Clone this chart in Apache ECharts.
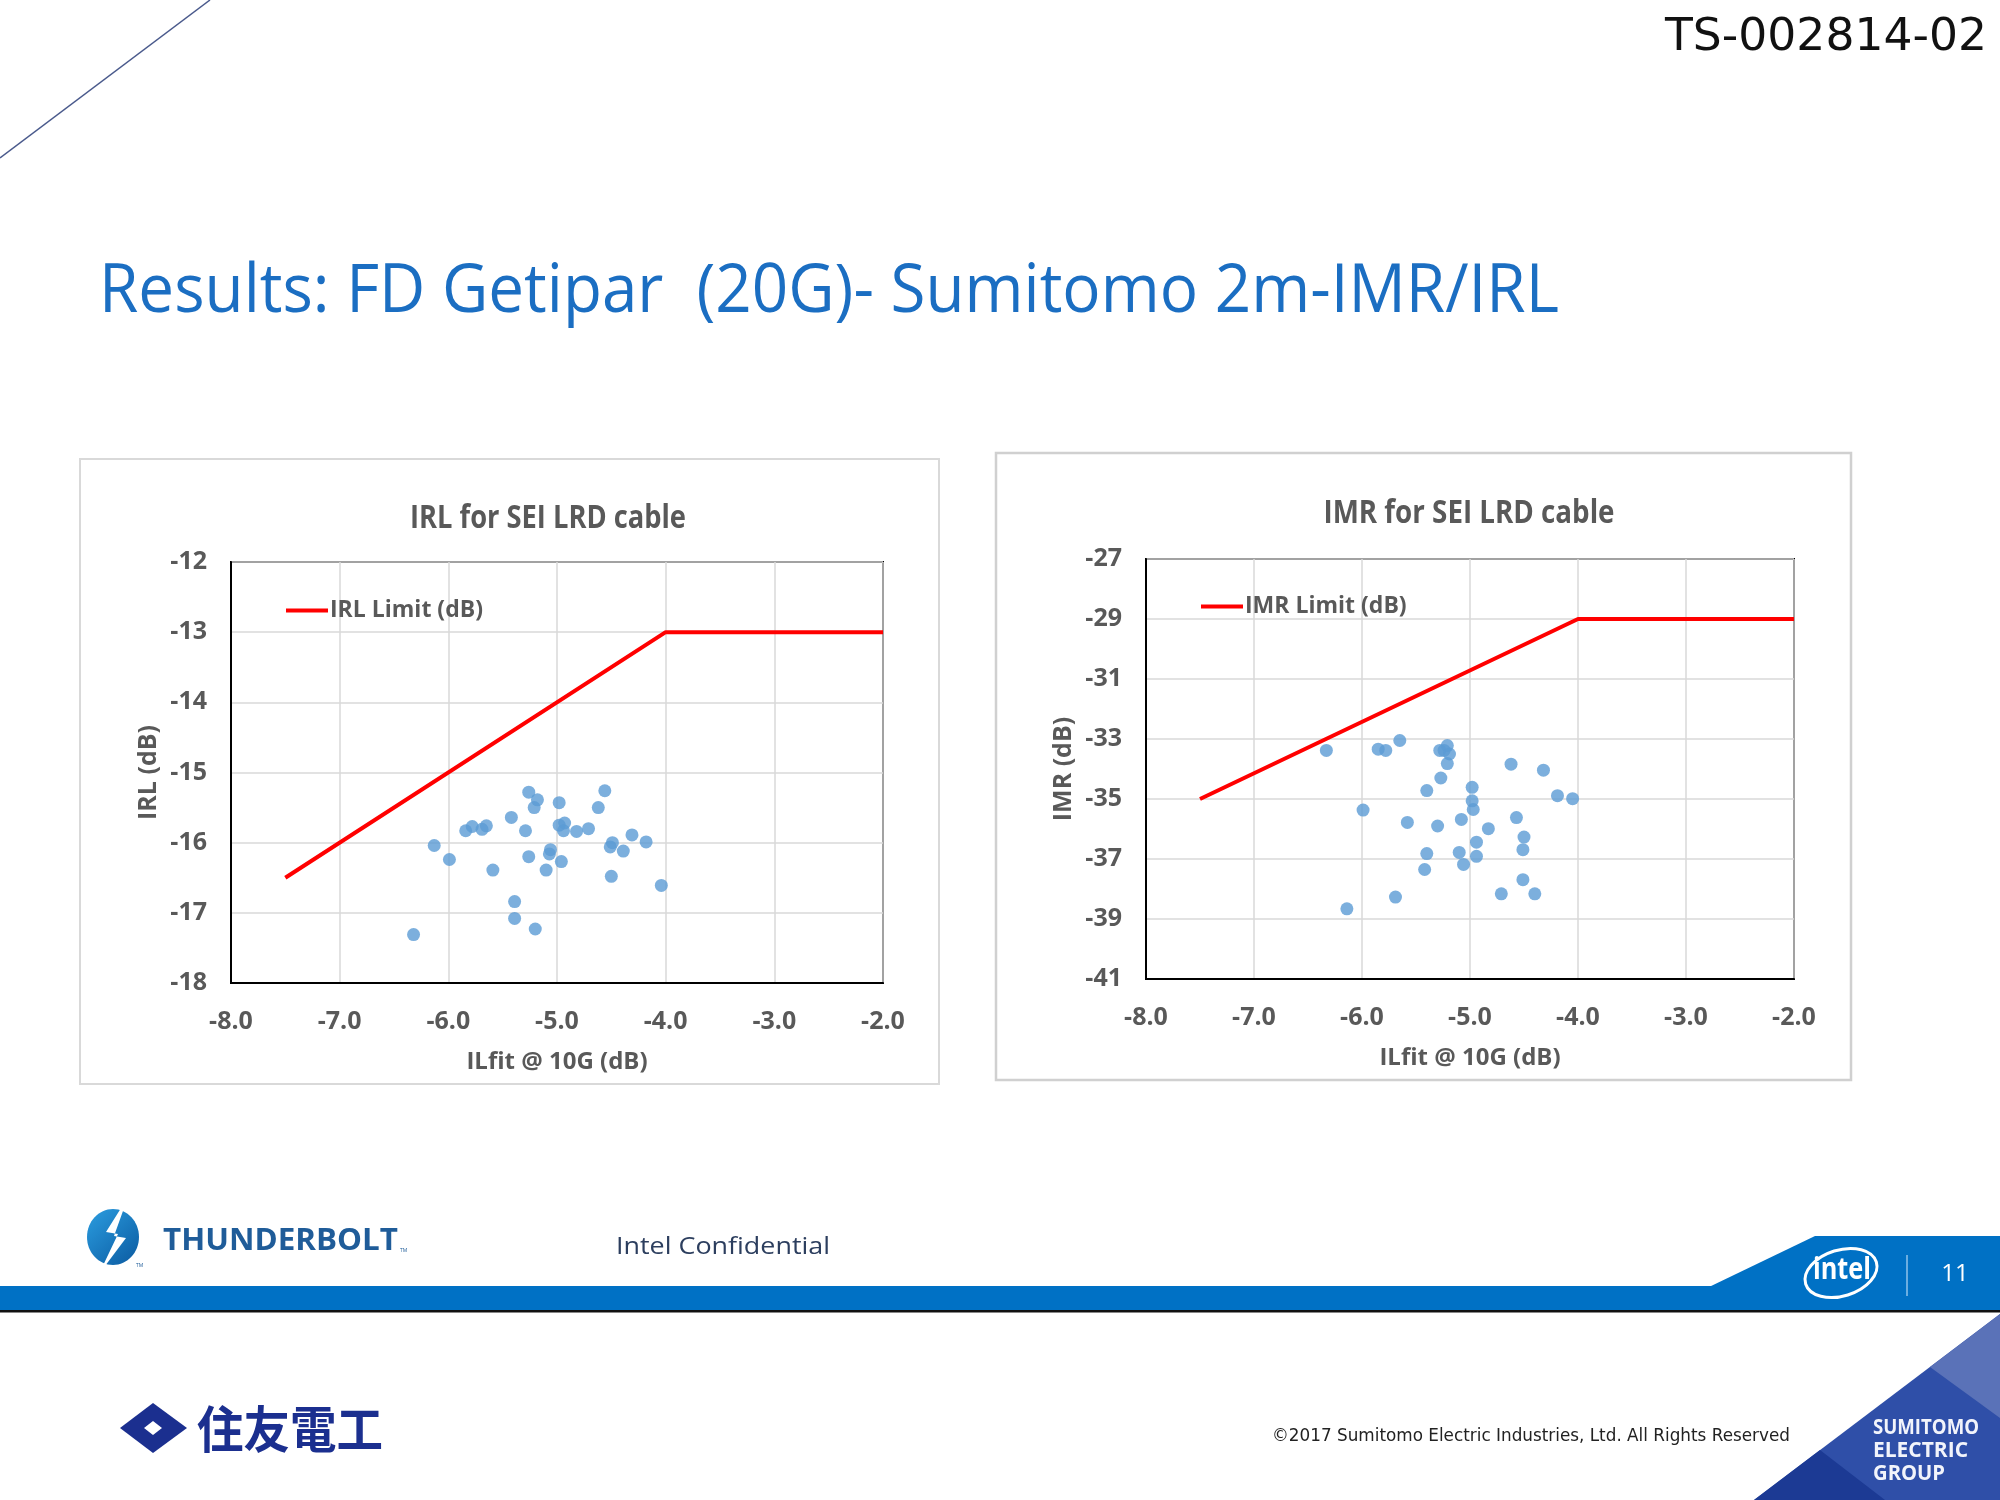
<!DOCTYPE html>
<html>
<head>
<meta charset="utf-8">
<script src="https://cdn.jsdelivr.net/npm/echarts@6/dist/echarts.min.js"></script>
<style>
html,body{margin:0;padding:0;background:#fff;}
#c{width:2000px;height:1500px;}
</style>
</head>
<body>
<div id="c"></div>
<script>
// ---- data ----
const irlX = [-5.26,-5.18,-5.21,-4.98,-4.56,-4.62,-5.42,-5.29,-4.98,-4.93,-4.94,-4.82,-4.71,-5.84,-5.78,-5.69,-5.65,-6.13,-5.99,-5.59,-5.26,-5.06,-5.07,-5.10,-4.96,-4.49,-4.51,-4.31,-4.18,-4.39,-4.50,-4.04,-5.39,-5.39,-5.20,-6.32];
const irlY = [-15.28,-15.39,-15.50,-15.43,-15.26,-15.50,-15.64,-15.83,-15.75,-15.72,-15.83,-15.84,-15.80,-15.83,-15.77,-15.81,-15.76,-16.04,-16.24,-16.39,-16.20,-16.10,-16.16,-16.39,-16.27,-16.00,-16.06,-15.89,-15.99,-16.12,-16.48,-16.61,-16.84,-17.08,-17.23,-17.31];
const imrX = [-6.33,-5.85,-5.78,-5.65,-5.28,-5.21,-5.24,-5.19,-5.21,-5.27,-5.40,-4.98,-4.98,-4.97,-4.62,-4.32,-4.19,-4.05,-5.99,-5.58,-5.30,-5.08,-4.83,-4.57,-4.50,-4.94,-4.51,-5.40,-5.10,-4.94,-5.42,-5.06,-4.51,-4.71,-4.40,-5.69,-6.14];
const imrY = [-33.38,-33.34,-33.38,-33.05,-33.38,-33.22,-33.38,-33.50,-33.82,-34.30,-34.72,-34.61,-35.06,-35.35,-33.84,-34.04,-34.89,-34.99,-35.37,-35.78,-35.90,-35.68,-35.99,-35.62,-36.27,-36.44,-36.69,-36.82,-36.78,-36.91,-37.35,-37.18,-37.69,-38.16,-38.16,-38.27,-38.66];
const irlLimitX = [-7.5,-4.0,-2.0];
const irlLimitY = [-16.5,-13,-13];
const imrLimitX = [-7.5,-4.0,-2.0];
const imrLimitY = [-35,-29,-29];
const xTickRange = [-8,-2];
const irlTickRange = [-18,-12];
const imrTickRange = [-41,-27];

const pageTitle = 'Results: FD Getipar  (20G)- Sumitomo 2m-IMR/IRL';
const irlTitle = 'IRL for SEI LRD cable';
const imrTitle = 'IMR for SEI LRD cable';
const xName = 'ILfit @ 10G (dB)';
const irlName = 'IRL (dB)';
const imrName = 'IMR (dB)';
const irlLegend = 'IRL Limit (dB)';
const imrLegend = 'IMR Limit (dB)';

// ---- font helpers ----
const mctx = document.createElement('canvas').getContext('2d');
function tw(font, text){ mctx.font = font; return mctx.measureText(text).width; }
const narrowOK = tw('bold 40px "Liberation Sans Narrow", monospace','abcdefgHIJ') !== tw('bold 40px monospace','abcdefgHIJ');
const CF = narrowOK ? '"Liberation Sans Narrow", "Open Sans", sans-serif' : '"Open Sans", sans-serif';
const fs = s => narrowOK ? s : Math.round(s*0.88);
function fitText(opts){
  const font = opts.font;
  const sx = opts.width ? opts.width / tw(font, opts.text) : 1;
  return {
    type:'text', x:opts.x, y:opts.y, scaleX:sx, z:opts.z||10,
    style:{text:opts.text, font:font, fill:opts.fill, align:opts.align||'left', verticalAlign:'middle'}
  };
}

const grey = '#595959';
const chart = echarts.init(document.getElementById('c'), null, {renderer:'canvas'});

function xAxisCfg(gi){
  return {
    gridIndex:gi, type:'value', min:xTickRange[0], max:xTickRange[1], interval:1,
    name:xName, nameLocation:'middle', nameGap:67,
    nameTextStyle:{color:grey, fontFamily:CF, fontWeight:'bold', fontSize:fs(27)},
    axisLine:{show:true, onZero:false, lineStyle:{color:'#000', width:2}},
    axisTick:{show:false},
    axisLabel:{color:grey, fontFamily:CF, fontWeight:'bold', fontSize:fs(28), margin:26,
      formatter:v=>v.toFixed(1)},
    splitLine:{show:true, lineStyle:{color:'#d9d9d9', width:1.5}}
  };
}
function yAxisCfg(gi, range, interval, name){
  return {
    gridIndex:gi, type:'value', min:range[0], max:range[1], interval:interval,
    name:name, nameLocation:'middle', nameGap:70, nameRotate:90,
    nameTextStyle:{color:grey, fontFamily:CF, fontWeight:'bold', fontSize:fs(28)},
    axisLine:{show:true, onZero:false, lineStyle:{color:'#000', width:2}},
    axisTick:{show:false},
    axisLabel:{color:grey, fontFamily:CF, fontWeight:'bold', fontSize:fs(28), margin:24},
    splitLine:{show:true, lineStyle:{color:'#d9d9d9', width:1.5}}
  };
}
function legendCfg(name, left, top){
  return {
    data:[name], left:left, top:top, padding:0, itemWidth:42, itemHeight:4, icon:'rect',
    itemGap:0, selectedMode:false,
    textStyle:{color:grey, fontFamily:CF, fontWeight:'bold', fontSize:fs(26), padding:[0,0,0,-3]}
  };
}
const pairs = (xs, ys) => xs.map((x,i)=>[x, ys[i]]);

const graphics = [
  // diagonal decoration
  {type:'line', shape:{x1:210,y1:0,x2:0,y2:158}, style:{stroke:'#4a5a8c', lineWidth:1.5}},
  fitText({text:'TS-002814-02', x:1987, y:38, font:'45px "DejaVu Sans"', width:322, fill:'#111', align:'right'}),
  fitText({text:pageTitle, x:99, y:293, font:'67px "Open Sans"', width:1460, fill:'#1b6ec2'}),
  // chart frames
  {type:'rect', shape:{x:80,y:459,width:859,height:625}, style:{fill:'#fff', stroke:'#d9d9d9', lineWidth:2}, z:-1},
  {type:'rect', shape:{x:996,y:453,width:855,height:627}, style:{fill:'#fff', stroke:'#d0d0d0', lineWidth:2.5}, z:-1},
  fitText({text:irlTitle, x:548, y:519, font:'bold 33px '+CF, width:276, fill:grey, align:'center'}),
  fitText({text:imrTitle, x:1469, y:514, font:'bold 33px '+CF, width:291, fill:grey, align:'center'}),
  // thunderbolt logo
  {type:'ellipse', shape:{cx:113,cy:1237,rx:26,ry:28},
   style:{fill:new echarts.graphic.LinearGradient(0,0,1,1,[{offset:0,color:'#2b9de0'},{offset:1,color:'#0b5aa0'}])}},
  {type:'polygon', shape:{points:[[128,1197],[106,1232],[118,1234],[99,1274],[126,1238],[114,1236],[128,1197]]},
   style:{fill:'#fff'}},
  fitText({text:'THUNDERBOLT', x:163, y:1241, font:'bold 31px "Open Sans"', width:235, fill:'#1f5c99'}),
  fitText({text:'TM', x:400, y:1251, font:'5px "Open Sans"', fill:'#1f5c99'}),
  fitText({text:'TM', x:136, y:1266, font:'5px "Open Sans"', fill:'#1f5c99'}),
  fitText({text:'Intel Confidential', x:616, y:1247, font:'24px "Open Sans"', width:214, fill:'#2c3e5e'}),
  // blue band
  {type:'rect', shape:{x:0,y:1286,width:2000,height:25}, style:{fill:'#0071c5'}},
  {type:'polygon', shape:{points:[[1709,1287],[1815,1236],[2000,1236],[2000,1287]]}, style:{fill:'#0071c5'}},
  {type:'rect', shape:{x:0,y:1310,width:2000,height:2.5}, style:{fill:'#111'}},
  // intel logo
  {type:'ellipse', x:1841, y:1273, rotation:0.3, shape:{cx:0,cy:0,rx:37,ry:23},
   style:{fill:null, stroke:'#fff', lineWidth:3}},
  fitText({text:'intel', x:1842, y:1270, font:'bold 30px "Open Sans"', width:58, fill:'#fff', align:'center'}),
  {type:'line', shape:{x1:1907,y1:1255,x2:1907,y2:1296}, style:{stroke:'#8fc3ea', lineWidth:1.5}},
  fitText({text:'11', x:1955, y:1274, font:'24px "Open Sans"', fill:'#fff', align:'center'}),
  // sumitomo mark
  {type:'polygon', shape:{points:[[153,1403],[187,1428],[153,1453],[120,1428]]}, style:{fill:'#1b2f8f'}},
  {type:'polygon', shape:{points:[[153,1421],[162,1428],[153,1435],[144,1428]]}, style:{fill:'#fff'}},
  fitText({text:'住友電工', x:197, y:1429, font:'bold 50px "Noto Sans CJK JP"', width:186, fill:'#1b2f8f'}),
  fitText({text:'©2017 Sumitomo Electric Industries, Ltd. All Rights Reserved', x:1272, y:1437, font:'17px "DejaVu Sans"', width:518, fill:'#222'}),
  // sumitomo triangle
  {type:'polygon', shape:{points:[[1754,1500],[2000,1314],[2000,1500]]}, style:{fill:'#2f4fa8'}},
  {type:'polygon', shape:{points:[[2000,1314],[1930,1367],[2000,1418]]}, style:{fill:'#5a72b8'}},
  {type:'polygon', shape:{points:[[1754,1500],[1820,1450],[1885,1500]]}, style:{fill:'#1c3a94'}},
  fitText({text:'SUMITOMO', x:1873, y:1428, font:'bold 21px "Open Sans"', width:106, fill:'#f2f4fb'}),
  fitText({text:'ELECTRIC', x:1873, y:1451, font:'bold 21px "Open Sans"', width:95, fill:'#f2f4fb'}),
  fitText({text:'GROUP', x:1873, y:1474, font:'bold 21px "Open Sans"', width:72, fill:'#f2f4fb'})
];

const option = {
  animation:false,
  backgroundColor:'#fff',
  grid:[
    {left:231, top:562, width:652, height:421, show:true, borderColor:'#000', borderWidth:2, backgroundColor:'transparent'},
    {left:1146, top:559, width:648, height:420, show:true, borderColor:'#000', borderWidth:2, backgroundColor:'transparent'}
  ],
  xAxis:[xAxisCfg(0), xAxisCfg(1)],
  yAxis:[yAxisCfg(0, irlTickRange, 1, irlName), yAxisCfg(1, imrTickRange, 2, imrName)],
  legend:[legendCfg(irlLegend, 286, 599), legendCfg(imrLegend, 1201, 595)],
  series:[
    {type:'scatter', name:'IRL', xAxisIndex:0, yAxisIndex:0, data:pairs(irlX, irlY), symbolSize:13,
     itemStyle:{color:'#5b9bd5'}, z:3},
    {type:'line', name:irlLegend, xAxisIndex:0, yAxisIndex:0, data:pairs(irlLimitX, irlLimitY),
     symbol:'none', lineStyle:{color:'#ff0000', width:4}, itemStyle:{color:'#ff0000'}, z:4},
    {type:'scatter', name:'IMR', xAxisIndex:1, yAxisIndex:1, data:pairs(imrX, imrY), symbolSize:13,
     itemStyle:{color:'#5b9bd5'}, z:3},
    {type:'line', name:imrLegend, xAxisIndex:1, yAxisIndex:1, data:pairs(imrLimitX, imrLimitY),
     symbol:'none', lineStyle:{color:'#ff0000', width:4}, itemStyle:{color:'#ff0000'}, z:4}
  ],
  graphic:graphics
};
chart.setOption(option);
</script>
</body>
</html>
